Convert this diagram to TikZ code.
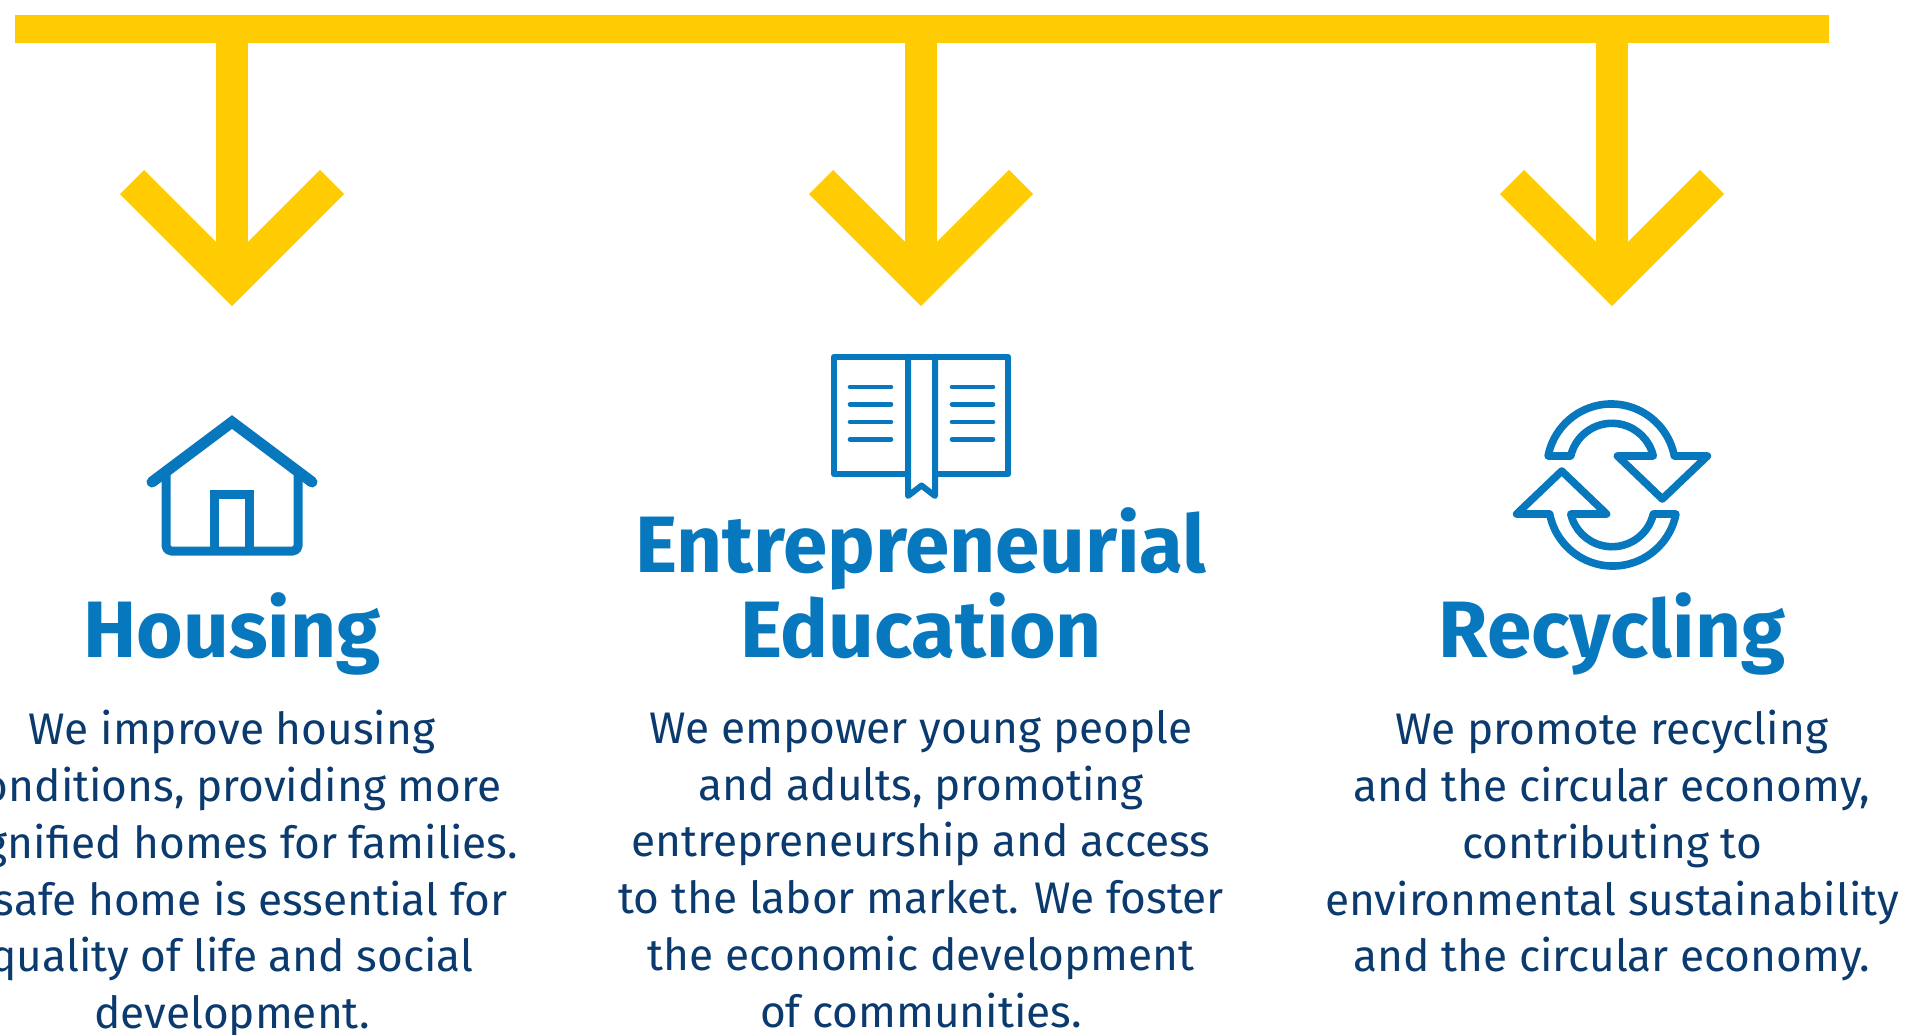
\documentclass[tikz,border=0pt]{standalone}
\usepackage{fontspec}
\setmainfont{Fira Sans}
\newfontface\bodyface{Fira Sans}
\newfontface\titleface{Fira Sans Bold}
\definecolor{gold}{HTML}{FFCC03}
\definecolor{iconblue}{HTML}{0878BE}
\definecolor{navy}{HTML}{0B3A6E}
\tikzset{
  goldstem/.style={draw=gold,line width=32pt},
  goldhead/.style={draw=gold,line width=34pt,miter limit=10,line join=miter},
  icon/.style={draw=iconblue,line width=7.6pt,line join=round,line cap=round},
  titletext/.style={text=iconblue,font=\titleface\fontsize{80}{85}\selectfont,align=center,inner sep=0pt,anchor=base},
  bodytext/.style={text=navy,font=\bodyface\fontsize{44.2}{56.8}\selectfont,align=center,inner sep=0pt,anchor=north},
}
\begin{document}
\begin{tikzpicture}[x=1pt,y=-1pt]
\useasboundingbox (0,0) rectangle (1905,1035);
% top bar
\fill[gold] (15,15) rectangle (1829,43);
\foreach \nm/\cx in {a/232,b/921,c/1612}{
  \coordinate (stem\nm) at (\cx,30);
  \coordinate (tip\nm) at (\cx,282);
  \draw[goldstem] (stem\nm) -- (tip\nm);
  \draw[goldhead] (\cx-100,182) -- (tip\nm) -- (\cx+100,182);
}
% house
\draw[icon,line width=9pt,line cap=butt,rounded corners=5pt] (166,475) -- (166,551) -- (298,551) -- (298,475);
\draw[icon,line width=9pt,line cap=butt,line join=miter] (214.3,551) -- (214.3,494) -- (249.7,494) -- (249.7,551);
\draw[icon,line width=11pt,line join=miter] (152,482) -- (232,422) -- (312,482);
% book
\draw[icon,line width=6pt,line join=round] (908,474.3) -- (834,474.3) -- (834,356.7) -- (1008,356.7) -- (1008,474.3) -- (935,474.3);
\draw[icon,line width=6pt] (908,356.7) -- (908,496) -- (921.5,485.5) -- (935,496) -- (935,356.7);
\foreach \ly in {387,404.3,422,439.3}{
  \draw[icon,line width=4.6pt] (850,\ly) -- (891,\ly);
  \draw[icon,line width=4.6pt] (952,\ly) -- (993,\ly);
}
% recycle
\begin{scope}[shift={(1612,485)},x=1pt,y=1pt]
  \foreach \rr in {0,180}{
  \begin{scope}[rotate=\rr]
  \draw[icon] (-63.9,29) -- (-41.3,29) arc[start angle=166.8,end angle=13.2,radius=42.4] -- (5.4,29) -- (50.3,-14) -- (95.4,29) -- (62.3,29) arc[start angle=11,end angle=169,radius=64.3] -- cycle;
  \end{scope}
  }
\end{scope}
% titles
\node[titletext] (t1) at (232,657) {Housing};
\node[titletext] (t2) at (921,657) {Entrepreneurial\\Education};
\node[titletext] (t3) at (1612,657) {Recycling};
% body
\node[bodytext] (b1) at (232,710) {We improve housing\\conditions, providing more\\dignified homes for families.\\A safe home is essential for\\quality of life and social\\development.};
\node[bodytext] (b2) at (921,710) {We empower young people\\and adults, promoting\\entrepreneurship and access\\to the labor market. We foster\\the economic development\\of communities.};
\node[bodytext] (b3) at (1612,710) {We promote recycling\\and the circular economy,\\contributing to\\environmental sustainability\\and the circular economy.};
\end{tikzpicture}
\end{document}
